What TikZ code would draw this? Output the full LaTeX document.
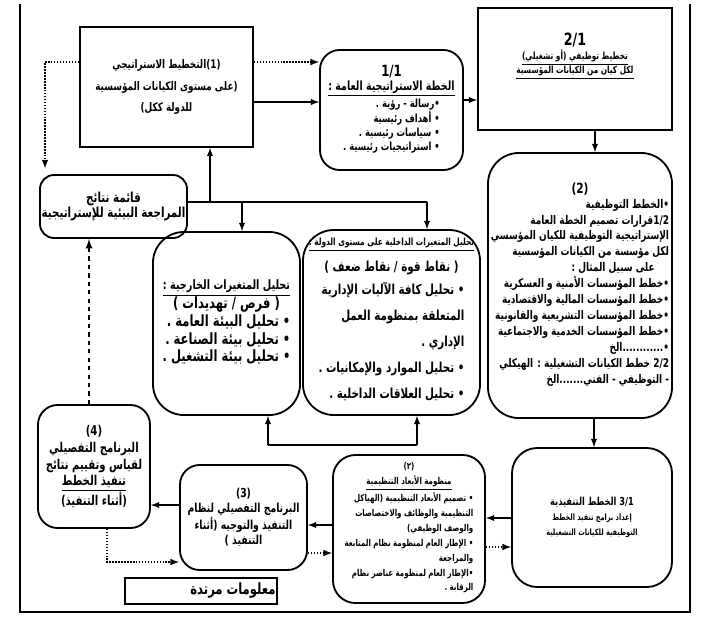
\documentclass[tikz,border=0pt]{standalone}
\usepackage{fontspec}
\usepackage{tikz}
\usetikzlibrary{arrows.meta, positioning}
\newfontfamily\arabicfont[Script=Arabic, FakeStretch=0.75]{DejaVu Sans}
\TeXXeTstate=1
\newcommand{\arline}[1]{\beginR #1\endR}
\newcommand{\numl}[1]{\beginL #1\endL{}}

\tikzset{
  sqbox/.style={draw, line width=1.3pt, align=center, inner sep=1pt},
  rbox/.style={draw, line width=1.3pt, rounded corners=14pt, align=center, inner sep=1pt},
  link/.style={->, line width=1pt},
  dotlink/.style={->, line width=1.1pt, densely dotted},
  dashlink/.style={->, line width=1.3pt, dashed},
  frameline/.style={line width=1.6pt},
}

\begin{document}
\begin{tikzpicture}[x=0.025cm, y=-0.025cm, >=latex, font=\arabicfont\bfseries]
\useasboundingbox (0,0) rectangle (709,625);

% --- Frame ---
\draw[frameline] (20,4) -- (20,612) -- (690,612) -- (690,4);

% --- Strategic level (top row) ---
\node[sqbox, minimum width=4.325cm, minimum height=3cm, font=\arabicfont\bfseries\fontsize{8.4}{15}\selectfont] (plan1) at (166.5,87)
  {\arline{(1)التخطيط الاستراتيجي}\\
   \arline{(على مستوى الكيانات المؤسسية}\\
   \arline{للدولة ككل)}};

\node[rbox, minimum width=3.575cm, minimum height=3cm, font=\arabicfont\bfseries\fontsize{8}{10}\selectfont] (plan11) at (391.5,110)
  {{\fontsize{11}{13}\selectfont 1/1}\\
   {\fontsize{9}{11}\selectfont\underline{\arline{الخطة الاستراتيجية العامة :}}}\\
   \begin{tabular}{@{}r@{}}
   \arline{•رسالة - رؤية .}\\
   \arline{• أهداف رئيسية}\\
   \arline{• سياسات رئيسية .}\\
   \arline{• استراتيجيات رئيسية .}
   \end{tabular}};

\node[sqbox, minimum width=4.85cm, minimum height=3.05cm] (plan21) at (575,69) {};
\node[font=\arabicfont\bfseries\fontsize{7}{10}\selectfont, align=center] (plan21txt) at (575,56)
  {{\fontsize{12}{12}\selectfont 2/1}\\
   \underline{\arline{تخطيط توظيفي (أو تشغيلي)}}\\
   \underline{\arline{لكل كيان من الكيانات المؤسسية}}};

% --- Functional plans (right column) ---
\node[rbox, rounded corners=22pt, minimum width=4.6cm, minimum height=6.625cm, font=\arabicfont\bfseries\fontsize{8.5}{11.3}\selectfont] (plan2) at (580,285.5)
  {{\fontsize{10}{12}\selectfont (2)}\\
   \begin{tabular}{@{}r@{}}
   \arline{•الخطط التوظيفية}\\
   \arline{\numl{1/2}قرارات تصميم الخطة العامة}\\
   \arline{الإستراتيجية التوظيفية للكيان المؤسسي}\\
   \arline{لكل مؤسسة من الكيانات المؤسسية}\\
   \arline{على سبيل المثال :}\hspace*{1.2em}\\
   \arline{•خطط المؤسسات الأمنية و العسكرية}\\
   \arline{•خطط المؤسسات المالية والاقتصادية}\\
   \arline{•خطط المؤسسات التشريعية والقانونية}\\
   \arline{•خطط المؤسسات الخدمية والاجتماعية}\\
   \arline{•............الخ}\\
   \arline{\numl{2/2} خطط الكيانات التشغيلية : الهيكلي}\\
   \arline{- التوظيفي - الفني.......الخ}
   \end{tabular}};

\node[rbox, rounded corners=18pt, minimum width=4cm, minimum height=3.475cm, font=\arabicfont\bfseries\fontsize{6.2}{10.6}\selectfont] (plan31) at (592,517.5)
  {{\fontsize{7.8}{10.6}\selectfont\arline{\numl{3/1} الخطط التنفيذية}}\\
   \arline{إعداد برامج تنفيذ الخطط}\\
   \arline{التوظيفية للكيانات التشغيلية}};

% --- Bottom row ---
\node[rbox, rounded corners=16pt, minimum width=3.8cm, minimum height=3.7cm, font=\arabicfont\bfseries\fontsize{6.7}{10.6}\selectfont] (sys) at (409,529)
  {(٢)\\
   \underline{\arline{منظومة الأبعاد التنظيمية}}\\
   \begin{tabular}{@{}r@{}}
   \arline{• تصميم الأبعاد التنظيمية (الهياكل}\\
   \arline{التنظيمية والوظائف والاختصاصات}\\
   \arline{والوصف الوظيفي)}\\
   \arline{• الإطار العام لمنظومة نظام المتابعة}\\
   \arline{والمراجعة}\\
   \arline{•الإطار العام لمنظومة عناصر نظام}\\
   \arline{الرقابة .}
   \end{tabular}};

\node[rbox, minimum width=3.175cm, minimum height=2.625cm, font=\arabicfont\bfseries\fontsize{8.8}{10.8}\selectfont] (prog3) at (243.5,517.5)
  {(3)\\
   \arline{البرنامج التفصيلي لنظام}\\
   \arline{التنفيذ والتوجيه (أثناء}\\
   \arline{التنفيذ )}};

\node[rbox, minimum width=2.8cm, minimum height=3.075cm, font=\arabicfont\bfseries\fontsize{9.6}{12}\selectfont] (prog4) at (94,466.5)
  {(4)\\
   \arline{البرنامج التفصيلي}\\
   \arline{لقياس وتقييم نتائج}\\
   \underline{\arline{تنفيذ الخطط}}\\
   \arline{(أثناء التنفيذ)}};

\node[sqbox, minimum width=3.7cm, minimum height=0.65cm, font=\arabicfont\bfseries\fontsize{11}{12}\selectfont] (fback) at (201,591)
  {\hspace*{1.6cm}\arline{معلومات مرتدة}};

% --- Environmental analysis (middle) ---
\node[rbox, rounded corners=10pt, minimum width=3.675cm, minimum height=1.575cm, font=\arabicfont\bfseries\fontsize{9.8}{11}\selectfont] (results) at (113.5,206.5)
  {\arline{قائمة نتائج}\\
   \arline{المراجعة البيئية للإستراتيجية}};

\node[rbox, rounded corners=22pt, minimum width=3.675cm, minimum height=4.575cm, font=\arabicfont\bfseries\fontsize{11}{12.6}\selectfont] (ext) at (226.5,323.5)
  {{\fontsize{9.2}{12.6}\selectfont\underline{\arline{تحليل المتغيرات الخارجية :}}}\\
   \arline{( فرص / تهديدات )}\\
   \begin{tabular}{@{}r@{}}
   \arline{• تحليل البيئة العامة .}\\
   \arline{• تحليل بيئة الصناعة .}\\
   \arline{• تحليل بيئة التشغيل .}
   \end{tabular}};

\node[rbox, rounded corners=22pt, minimum width=4.425cm, minimum height=4.625cm, font=\arabicfont\bfseries\fontsize{9.8}{18.5}\selectfont] (int) at (391.5,322.5)
  {{\fontsize{7}{18.5}\selectfont\underline{\arline{تحليل المتغيرات الداخلية على مستوى الدولة :}}}\\
   \arline{( نقاط قوة / نقاط ضعف )}\\
   \begin{tabular}{@{}r@{}}
   \arline{• تحليل كافة الآليات الإدارية}\\
   \arline{المتعلقة بمنظومة العمل}\\
   \arline{الإداري .}\\
   \arline{• تحليل الموارد والإمكانيات .}\\
   \arline{• تحليل العلاقات الداخلية .}
   \end{tabular}};

% --- Connectors ---
\draw[dotlink] (plan1.east |- 0,62) -- (plan11.west |- 0,62);
\draw[link] (plan1.east |- 0,102) -- (plan11.west |- 0,102);
\draw[link] (plan11.east |- 0,100) -- (plan21.west |- 0,100);
\draw[link] (plan21.south -| 595,0) -- (plan2.north -| 595,0);
\draw[link] (plan2.south -| 594,0) -- (plan31.north -| 594,0);
\draw[link] (plan31.west |- 0,518) -- (sys.east |- 0,518);
\draw[dotlink] (sys.east |- 0,547) -- (plan31.west |- 0,547);
\draw[link] (sys.west |- 0,525) -- (prog3.east |- 0,525);
\draw[dotlink] (prog3.east |- 0,553) -- (sys.west |- 0,553);
\draw[link] (prog3.west |- 0,505) -- (prog4.east |- 0,505);
\draw[dotlink] (prog4.south -| 107,0) |- (prog3.west |- 0,562);
\draw[dashlink] (prog4.north -| 89,0) -- (results.south -| 89,0);
\draw[dotlink, shorten >=4pt] (plan1.west |- 0,62) -| (results.north -| 45,0);

% feedback bus from the results list
\coordinate (jup) at (210,202);
\coordinate (jext) at (242,202);
\coordinate (busR) at (427,202);
\draw[line width=1pt] (results.east |- busR) -- (busR);
\draw[link] (jup) -- (plan1.south -| jup);
\draw[link] (jext) -- (ext.north -| jext);
\draw[link] (busR) -- (int.north -| busR);

% bracket under the two analysis boxes
\coordinate (fbL) at (268,445);
\coordinate (fbR) at (417,445);
\draw[line width=1pt] (fbL) -- (fbR);
\draw[link] (fbL) -- (ext.south -| fbL);
\draw[link] (fbR) -- (int.south -| fbR);
\end{tikzpicture}
\end{document}
